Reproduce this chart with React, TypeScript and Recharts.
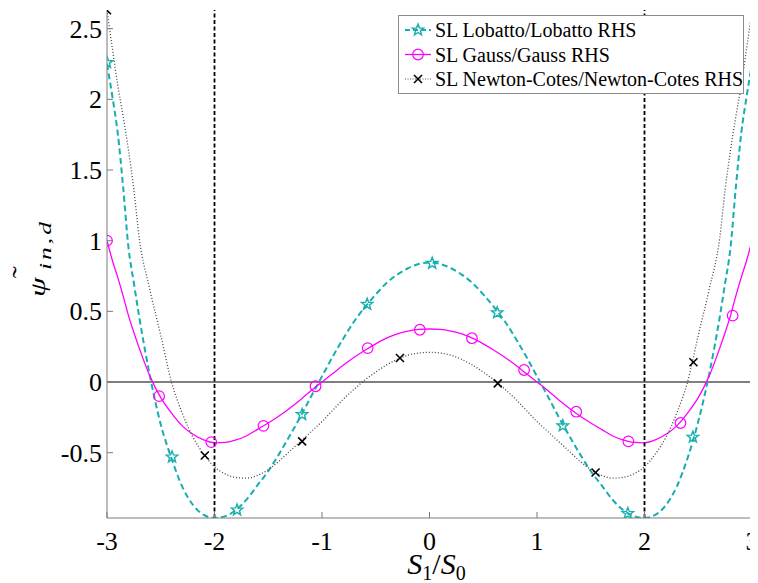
import React from 'react';
import { ComposedChart, Line, XAxis, YAxis, ReferenceLine, Legend } from 'recharts';

// ---------- data ----------
const X_TICKS = [-3, -2, -1, 0, 1, 2, 3];
const Y_TICKS = [-0.5, 0, 0.5, 1, 1.5, 2, 2.5];
const X_DOMAIN: [number, number] = [-3, 3];
const Y_DOMAIN: [number, number] = [-0.962, 2.632];
const V_LINES = [-2, 2];

const CURVE_X = [
  -3, -2.95, -2.9, -2.85, -2.8, -2.75, -2.7, -2.6, -2.5, -2.4, -2.3, -2.2, -2.1, -2.0,
  -1.9, -1.8, -1.7, -1.6, -1.5, -1.4, -1.3, -1.2, -1.1, -1.0, -0.9, -0.8, -0.7, -0.6,
  -0.5, -0.4, -0.3, -0.2, -0.1, 0,
  0.1, 0.2, 0.3, 0.4, 0.5, 0.6, 0.7, 0.8, 0.9, 1.0, 1.1, 1.2, 1.3, 1.4, 1.5, 1.6, 1.7,
  1.8, 1.9, 2.0, 2.1, 2.2, 2.3, 2.4, 2.5, 2.6, 2.7, 2.75, 2.8, 2.85, 2.9, 2.95, 3,
];

const LOBATTO_Y = [
  2.25, 2.02, 1.76, 1.38, 0.95, 0.7, 0.46, 0.04, -0.3, -0.54, -0.74, -0.87, -0.94, -0.962,
  -0.949, -0.905, -0.83, -0.73, -0.63, -0.51, -0.38, -0.245, -0.1, 0.04, 0.18, 0.31, 0.43, 0.53,
  0.62, 0.7, 0.76, 0.805, 0.835, 0.845,
  0.835, 0.805, 0.76, 0.7, 0.62, 0.53, 0.43, 0.31, 0.18, 0.04, -0.1, -0.245, -0.38, -0.51, -0.63,
  -0.73, -0.83, -0.905, -0.949, -0.962, -0.94, -0.87, -0.74, -0.54, -0.28, 0.05, 0.46, 0.7,
  0.95, 1.38, 1.76, 2.02, 2.25,
];

const GAUSS_Y = [
  1.0, 0.86, 0.74, 0.61, 0.47, 0.35, 0.24, 0.04, -0.11, -0.22, -0.31, -0.37, -0.41, -0.43,
  -0.427, -0.41, -0.38, -0.335, -0.29, -0.24, -0.185, -0.125, -0.06, 0.0, 0.06, 0.12, 0.175, 0.225,
  0.27, 0.31, 0.34, 0.36, 0.372, 0.375,
  0.372, 0.36, 0.34, 0.31, 0.27, 0.225, 0.175, 0.12, 0.06, 0.0, -0.06, -0.125, -0.185, -0.24,
  -0.29, -0.335, -0.38, -0.41, -0.427, -0.43, -0.41, -0.37, -0.31, -0.22, -0.11, 0.04, 0.24,
  0.35, 0.47, 0.61, 0.74, 0.86, 1.0,
];

const NEWTON_Y = [
  2.63, 2.36, 2.1, 1.88, 1.64, 1.36, 1.02, 0.65, 0.33, 0.0, -0.22, -0.39, -0.51, -0.6,
  -0.65, -0.675, -0.68, -0.66, -0.62, -0.56, -0.49, -0.42, -0.35, -0.28, -0.2, -0.12, -0.05, 0.015,
  0.07, 0.12, 0.16, 0.19, 0.205, 0.21,
  0.205, 0.19, 0.16, 0.12, 0.07, 0.015, -0.05, -0.12, -0.2, -0.28, -0.35, -0.42, -0.49, -0.56,
  -0.62, -0.66, -0.68, -0.675, -0.65, -0.6, -0.51, -0.39, -0.22, 0.0, 0.33, 0.65, 1.02, 1.36,
  1.64, 1.88, 2.1, 2.36, 2.63,
];

const LOBATTO_MX = [-3, -2.395, -1.79, -1.185, -0.58, 0.025, 0.63, 1.24, 1.845, 2.45];
const LOBATTO_MY = [2.26, -0.53, -0.905, -0.23, 0.55, 0.84, 0.49, -0.31, -0.93, -0.39];
const GAUSS_MX = [-3, -2.515, -2.03, -1.545, -1.06, -0.575, -0.09, 0.395, 0.88, 1.365, 1.85, 2.335, 2.82];
const GAUSS_MY = [1.0, -0.1, -0.425, -0.31, -0.03, 0.24, 0.37, 0.31, 0.085, -0.21, -0.42, -0.29, 0.47];
const NEWTON_MX = [-3, -2.09, -1.185, -0.275, 0.635, 1.545, 2.455];
const NEWTON_MY = [2.63, -0.52, -0.42, 0.17, -0.01, -0.64, 0.14];

const LEGEND_LABELS = [
  'SL Lobatto/Lobatto RHS',
  'SL Gauss/Gauss RHS',
  'SL Newton-Cotes/Newton-Cotes RHS',
];

// ---------- helpers ----------
const zip = (xs: number[], ys: number[]) => xs.map((x, i) => ({ x, y: ys[i] }));

const lobattoCurve = zip(CURVE_X, LOBATTO_Y);
const gaussCurve = zip(CURVE_X, GAUSS_Y);
const newtonCurve = zip(CURVE_X, NEWTON_Y);
const lobattoMarks = zip(LOBATTO_MX, LOBATTO_MY);
const gaussMarks = zip(GAUSS_MX, GAUSS_MY);
const newtonMarks = zip(NEWTON_MX, NEWTON_MY);

const FONT = "'Liberation Serif', 'DejaVu Serif', serif";
const FS = { fontFamily: FONT } as React.CSSProperties;
const TEAL = '#17AEAE';
const MAGENTA = '#FF00FF';
const FRAME = '#7a7a7a';

const starPath = (cx: number, cy: number, r: number) => {
  const pts: string[] = [];
  for (let i = 0; i < 10; i++) {
    const rr = i % 2 === 0 ? r : r * 0.42;
    const a = -Math.PI / 2 + (i * Math.PI) / 5;
    pts.push(`${cx + rr * Math.cos(a)},${cy + rr * Math.sin(a)}`);
  }
  return `M${pts.join('L')}Z`;
};

const StarMark = ({ cx, cy }: any) =>
  cx == null || cy == null ? null : (
    <path d={starPath(cx, cy, 6)} fill="none" stroke={TEAL} strokeWidth={1.4} />
  );
const CircleMark = ({ cx, cy }: any) =>
  cx == null || cy == null ? null : (
    <circle cx={cx} cy={cy} r={5.3} fill="none" stroke={MAGENTA} strokeWidth={1.2} />
  );
const CrossMark = ({ cx, cy }: any) =>
  cx == null || cy == null ? null : (
    <g stroke="#000" strokeWidth={1.6}>
      <line x1={cx - 4} y1={cy - 4} x2={cx + 4} y2={cy + 4} />
      <line x1={cx - 4} y1={cy + 4} x2={cx + 4} y2={cy - 4} />
    </g>
  );

const BottomTick = ({ x, y, payload }: any) => (
  <g>
    <line x1={x} x2={x} y1={y} y2={y - 6} stroke={FRAME} />
    <text x={x} y={y + 32} textAnchor="middle" fontSize={26} style={FS} fill="#000">
      {String(payload.value)}
    </text>
  </g>
);
const LeftTick = ({ x, y, payload }: any) => (
  <g>
    <line x1={x} x2={x + 6} y1={y} y2={y} stroke={FRAME} />
    <text x={x - 5} y={y} dy={9} textAnchor="end" fontSize={26} style={FS} fill="#000">
      {String(payload.value)}
    </text>
  </g>
);
const TopTick = ({ x, y }: any) => <line x1={x} x2={x} y1={y} y2={y + 6} stroke={FRAME} />;
const RightTick = ({ x, y }: any) => <line x1={x} x2={x - 6} y1={y} y2={y} stroke={FRAME} />;

const XLabel = ({ viewBox }: any) => {
  const cx = viewBox.x + viewBox.width / 2 + 7;
  const by = viewBox.y + 56;
  return (
    <text x={cx} y={by} textAnchor="middle" fontSize={30} style={FS} fill="#000">
      <tspan fontStyle="italic">S</tspan>
      <tspan fontSize={20} dy={6}>1</tspan>
      <tspan dy={-6}>/</tspan>
      <tspan fontStyle="italic">S</tspan>
      <tspan fontSize={20} dy={6}>0</tspan>
    </text>
  );
};

const YLabel = () => (
  <g transform="translate(37,289) rotate(-90) scale(1.5,1)" fill="#000">
    <text x={0} y={0} fontSize={21} fontStyle="italic" style={FS}>ψ</text>
    <text x={12.5} y={-16} fontSize={24} style={FS}>˜</text>
    <text x={18} y={6} fontSize={17} fontStyle="italic" letterSpacing={2} style={FS}>in,d</text>
  </g>
);

const LegendBox = () => {
  const rows = [0, 1, 2];
  return (
    <svg width={346} height={79} style={{ display: 'block' }}>
      <rect x={0.5} y={0.5} width={345} height={78} fill="#fff" stroke="#8c8c8c" />
      {rows.map((i) => {
        const cy = 15 + i * 24.5;
        const base = cy + 7;
        return (
          <g key={i}>
            {i === 0 && (
              <>
                <line x1={7} x2={33} y1={cy} y2={cy} stroke={TEAL} strokeWidth={2} strokeDasharray="5 3" />
                <StarMark cx={20} cy={cy} />
              </>
            )}
            {i === 1 && (
              <>
                <line x1={7} x2={33} y1={cy} y2={cy} stroke={MAGENTA} strokeWidth={1.3} />
                <CircleMark cx={20} cy={cy} />
              </>
            )}
            {i === 2 && (
              <>
                <line x1={7} x2={33} y1={cy} y2={cy} stroke="#555" strokeWidth={1.2} strokeDasharray="1 1.5" />
                <CrossMark cx={20} cy={cy} />
              </>
            )}
            <text x={37} y={base} fontSize={20} style={FS} fill="#000">
              {LEGEND_LABELS[i]}
            </text>
          </g>
        );
      })}
    </svg>
  );
};

export default function App() {
  return (
    <div style={{ width: 750, height: 575 }}>
      <ComposedChart
        width={750}
        height={575}
        margin={{ top: 2, right: 6, bottom: 0, left: 0 }}
        style={{ overflow: 'visible' }}
      >
        <XAxis
          xAxisId={0}
          type="number"
          dataKey="x"
          domain={X_DOMAIN}
          ticks={X_TICKS}
          interval={0}
          allowDataOverflow
          height={65}
          tickSize={0}
          tickMargin={0}
          tickLine={false}
          axisLine={{ stroke: FRAME }}
          tick={<BottomTick />}
          label={{ content: <XLabel /> } as any}
        />
        <XAxis
          xAxisId="top"
          orientation="top"
          type="number"
          dataKey="x"
          domain={X_DOMAIN}
          ticks={X_TICKS}
          interval={0}
          allowDataOverflow
          height={0}
          tickSize={0}
          tickMargin={0}
          tickLine={false}
          axisLine={{ stroke: FRAME }}
          tick={<TopTick />}
        />
        <YAxis
          yAxisId={0}
          type="number"
          domain={Y_DOMAIN}
          ticks={Y_TICKS}
          interval={0}
          allowDataOverflow
          width={99}
          tickSize={0}
          tickMargin={0}
          tickLine={false}
          axisLine={{ stroke: FRAME }}
          tick={<LeftTick />}
          label={{ content: <YLabel /> } as any}
        />
        <YAxis
          yAxisId="right"
          orientation="right"
          type="number"
          domain={Y_DOMAIN}
          ticks={Y_TICKS}
          interval={0}
          allowDataOverflow
          width={0}
          tickSize={0}
          tickMargin={0}
          tickLine={false}
          axisLine={{ stroke: FRAME }}
          tick={<RightTick />}
        />
        <ReferenceLine y={0} stroke="#555" strokeWidth={1.3} />
        <Line
          data={lobattoCurve}
          dataKey="y"
          type="monotone"
          stroke={TEAL}
          strokeWidth={2}
          strokeDasharray="6 3.5"
          dot={false}
          activeDot={false}
          isAnimationActive={false}
          legendType="none"
        />
        <Line
          data={gaussCurve}
          dataKey="y"
          type="monotone"
          stroke={MAGENTA}
          strokeWidth={1.3}
          dot={false}
          activeDot={false}
          isAnimationActive={false}
          legendType="none"
        />
        <Line
          data={newtonCurve}
          dataKey="y"
          type="monotone"
          stroke="#444"
          strokeWidth={1.3}
          strokeDasharray="1 2"
          dot={false}
          activeDot={false}
          isAnimationActive={false}
          legendType="none"
        />
        <Line
          data={lobattoMarks}
          dataKey="y"
          stroke="none"
          dot={<StarMark />}
          activeDot={false}
          isAnimationActive={false}
          legendType="none"
        />
        <Line
          data={gaussMarks}
          dataKey="y"
          stroke="none"
          dot={<CircleMark />}
          activeDot={false}
          isAnimationActive={false}
          legendType="none"
        />
        <Line
          data={newtonMarks}
          dataKey="y"
          stroke="none"
          dot={<CrossMark />}
          activeDot={false}
          isAnimationActive={false}
          legendType="none"
        />
        {V_LINES.map((v) => (
          <ReferenceLine key={v} x={v} stroke="#000" strokeWidth={1.8} strokeDasharray="4 2.5" />
        ))}
        <Legend
          layout="horizontal"
          verticalAlign="middle"
          align="center"
          wrapperStyle={{ position: 'absolute', left: 390, top: 7, width: 346, height: 79 }}
          content={() => <LegendBox />}
        />
      </ComposedChart>
    </div>
  );
}
